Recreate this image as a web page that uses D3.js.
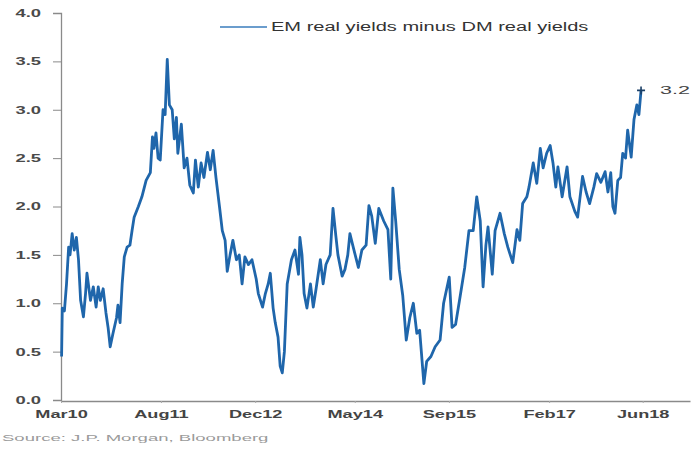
<!DOCTYPE html>
<html><head><meta charset="utf-8">
<script src="https://cdn.jsdelivr.net/npm/d3@7"></script>
<style>html,body{margin:0;padding:0;background:#fff}svg{display:block}text{font-family:"Liberation Sans",Arial,sans-serif}</style>
</head><body>
<svg id="c" width="697" height="451"></svg>
<script>
// ---- data (decimal years) ----
const dates = [2010.17,2010.18,2010.21,2010.24,2010.27,2010.29,2010.32,2010.35,2010.38,2010.41,2010.44,2010.48,2010.51,2010.53,2010.58,2010.62,2010.66,2010.69,2010.72,2010.76,2010.80,2010.83,2010.86,2010.90,2010.95,2010.97,2011.00,2011.03,2011.06,2011.10,2011.14,2011.17,2011.20,2011.26,2011.31,2011.37,2011.43,2011.46,2011.48,2011.51,2011.54,2011.57,2011.61,2011.64,2011.67,2011.70,2011.74,2011.77,2011.80,2011.82,2011.87,2011.91,2011.95,2011.99,2012.04,2012.07,2012.11,2012.15,2012.19,2012.24,2012.28,2012.32,2012.36,2012.41,2012.45,2012.49,2012.52,2012.56,2012.60,2012.65,2012.69,2012.73,2012.77,2012.82,2012.87,2012.93,2012.96,2013.02,2013.06,2013.10,2013.13,2013.17,2013.20,2013.24,2013.27,2013.30,2013.33,2013.37,2013.43,2013.48,2013.53,2013.55,2013.58,2013.61,2013.65,2013.70,2013.74,2013.78,2013.84,2013.88,2013.92,2013.98,2014.02,2014.06,2014.09,2014.15,2014.19,2014.23,2014.26,2014.30,2014.38,2014.43,2014.49,2014.53,2014.57,2014.62,2014.67,2014.74,2014.80,2014.84,2014.87,2014.91,2014.96,2015.01,2015.06,2015.11,2015.16,2015.21,2015.25,2015.31,2015.35,2015.41,2015.47,2015.54,2015.59,2015.67,2015.71,2015.76,2015.82,2015.89,2015.95,2016.01,2016.06,2016.11,2016.15,2016.19,2016.22,2016.28,2016.32,2016.39,2016.45,2016.50,2016.57,2016.63,2016.67,2016.71,2016.77,2016.80,2016.86,2016.91,2016.96,2017.00,2017.05,2017.10,2017.14,2017.18,2017.21,2017.27,2017.34,2017.38,2017.45,2017.49,2017.56,2017.61,2017.66,2017.72,2017.76,2017.82,2017.88,2017.92,2017.96,2017.99,2018.02,2018.06,2018.10,2018.13,2018.17,2018.20,2018.25,2018.29,2018.33,2018.36,2018.39];
const values = [0.45,0.95,0.92,1.2,1.58,1.5,1.72,1.55,1.68,1.45,1.03,0.86,1.1,1.31,1.03,1.17,0.96,1.17,1.03,1.15,0.9,0.75,0.55,0.69,0.85,0.98,0.8,1.2,1.48,1.58,1.6,1.75,1.89,2.0,2.1,2.27,2.35,2.72,2.6,2.76,2.5,2.48,3.0,2.95,3.52,3.05,3.0,2.7,2.92,2.55,2.85,2.4,2.5,2.22,2.14,2.48,2.2,2.45,2.3,2.56,2.38,2.58,2.3,2.0,1.75,1.65,1.33,1.5,1.65,1.45,1.5,1.2,1.48,1.4,1.45,1.25,1.1,0.96,1.1,1.2,1.31,0.95,0.8,0.65,0.35,0.28,0.5,1.2,1.45,1.55,1.3,1.68,1.5,1.1,0.95,1.2,0.96,1.15,1.45,1.2,1.4,1.5,1.98,1.7,1.5,1.28,1.35,1.5,1.72,1.6,1.37,1.55,1.6,2.01,1.9,1.62,1.98,1.85,1.76,1.25,2.19,1.85,1.35,1.08,0.62,0.85,1.0,0.69,0.72,0.17,0.4,0.45,0.55,0.62,1.0,1.27,0.75,0.78,1.05,1.37,1.75,1.75,2.1,1.85,1.17,1.6,1.79,1.3,1.75,1.93,1.72,1.58,1.42,1.76,1.65,2.03,2.1,2.2,2.45,2.24,2.6,2.4,2.55,2.63,2.45,2.2,2.41,2.1,2.41,2.1,1.95,1.89,2.31,2.15,2.03,2.2,2.34,2.25,2.36,2.15,2.35,2.0,1.93,2.27,2.3,2.55,2.5,2.79,2.51,2.9,3.05,2.95,3.2];
const xTickDates = ["2010-03-01","2011-08-01","2012-12-01","2014-05-01","2015-09-01","2017-02-01","2018-06-01"];
const xTickLabels = ["Mar10","Aug11","Dec12","May14","Sep15","Feb17","Jun18"];
const yTicks = [0,0.5,1,1.5,2,2.5,3,3.5,4];
const seriesName = "EM real yields minus DM real yields";
const lastLabel = "3.2";
const sourceText = "Source: J.P. Morgan, Bloomberg";

// ---- helpers ----
function decToDate(t){const y=Math.floor(t);const s=Date.UTC(y,0,1),e=Date.UTC(y+1,0,1);return new Date(s+(t-y)*(e-s));}
function stretch(sel,f){sel.each(function(){const w=this.getComputedTextLength();d3.select(this).attr("textLength",w*f).attr("lengthAdjust","spacingAndGlyphs");});}

const data = dates.map((d,i)=>({date:decToDate(d),value:values[i]}));
const svg = d3.select("#c");
const x = d3.scaleUtc().domain([new Date(Date.UTC(2010,2,1)),new Date(Date.UTC(2019,1,1))]).range([61,690]);
const y = d3.scaleLinear().domain([0,4]).range([400,13]);

// y axis
const ya = svg.append("g").attr("transform","translate(61,0)")
  .call(d3.axisLeft(y).tickValues(yTicks).tickFormat(d3.format(".1f")).tickSize(8).tickPadding(12));
ya.select(".domain").attr("stroke","#8a8a8a").attr("stroke-width",1.3);
ya.selectAll(".tick line").attr("stroke","#8a8a8a");
ya.selectAll("text").attr("font-size",10.5).attr("fill","#4a4a4a").attr("font-weight","bold").call(stretch,1.75);

// x axis
const tickD = xTickDates.map(s=>new Date(s+"T00:00:00Z"));
const xa = svg.append("g").attr("transform","translate(0,401)")
  .call(d3.axisBottom(x).tickValues(tickD).tickFormat((d,i)=>xTickLabels[i]).tickSize(2).tickSizeOuter(0).tickPadding(7));
xa.select(".domain").attr("stroke","#8a8a8a").attr("stroke-width",1.3);
xa.selectAll(".tick line").attr("stroke","#aaa");
xa.selectAll("text").attr("font-size",11).attr("fill","#444").attr("font-weight","bold").call(stretch,1.65);

// line
const line = d3.line().x(d=>x(d.date)).y(d=>y(d.value));
svg.append("path").datum(data).attr("d",line).attr("fill","none")
  .attr("stroke","#1f66ab").attr("stroke-width",2.8).attr("stroke-linejoin","round");

// end marker
const last = data[data.length-1];
const lx = x(last.date), ly = y(last.value);
svg.append("path").attr("d",`M${lx-4},${ly}H${lx+4}M${lx},${ly-4}V${ly+4}`).attr("stroke","#1b3f66").attr("stroke-width",1.6);
svg.append("text").attr("x",lx+19).attr("y",ly+4).attr("font-size",10.5).attr("fill","#444").text(lastLabel).call(stretch,2.05);

// legend
svg.append("line").attr("x1",220).attr("x2",267).attr("y1",27).attr("y2",27).attr("stroke","#3a7dbd").attr("stroke-width",1.6);
svg.append("text").attr("x",271).attr("y",31).attr("font-size",12).attr("fill","#333").text(seriesName).call(stretch,1.67);

// source
svg.append("text").attr("x",2).attr("y",441).attr("font-size",8.5).attr("fill","#9a9a9a").text(sourceText).call(stretch,2.18);
</script>
</body></html>
